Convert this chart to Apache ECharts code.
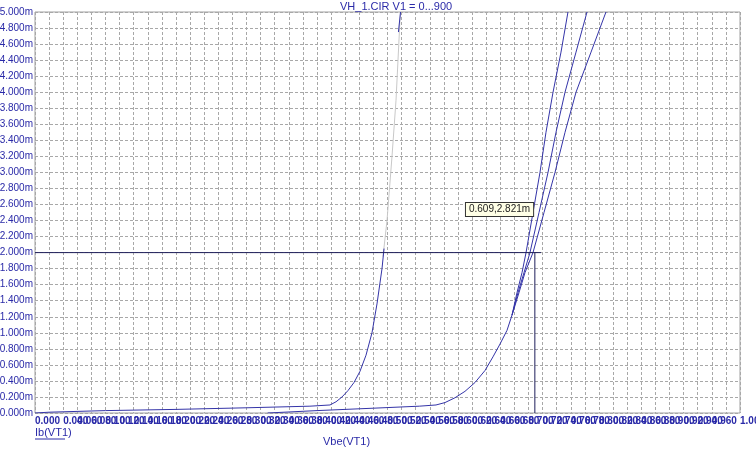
<!DOCTYPE html>
<html>
<head>
<meta charset="utf-8">
<script src="https://cdn.jsdelivr.net/npm/echarts@6/dist/echarts.min.js"></script>
<style>
  html, body { margin: 0; padding: 0; background: #fff; }
  #chart { width: 756px; height: 449px; }
</style>
</head>
<body>
<div id="chart"></div>
<script>
// Vbe (V) vs Ib (mA)
const curveA = [[0, 0], [0.02, 0.01], [0.1, 0.03], [0.2, 0.045], [0.3, 0.065], [0.39, 0.085], [0.4184, 0.1],
  [0.427, 0.14], [0.4355, 0.2], [0.444, 0.28], [0.4525, 0.38], [0.461, 0.52], [0.4695, 0.72], [0.478, 1.0],
  [0.4851, 1.36], [0.4922, 1.8], [0.4951, 2.05]];
const curveAGray = [[0.4936, 1.95], [0.4993, 2.4], [0.5064, 3.2], [0.5121, 3.9], [0.5177, 4.9], [0.5185, 5.0]];
const curveATop = [[0.5155, 4.75], [0.5185, 5.0]];
const curveLow = [[0.33, 0], [0.4, 0.03], [0.48, 0.06], [0.545, 0.085], [0.5688, 0.1], [0.5816, 0.13],
  [0.5957, 0.19], [0.6099, 0.27], [0.6241, 0.38], [0.6383, 0.53], [0.6496, 0.7], [0.6596, 0.86],
  [0.6695, 1.03], [0.6766, 1.22]];
const curveBTop = [[0.6837, 1.5], [0.6908, 1.75], [0.6965, 2.0], [0.7064, 2.5], [0.7163, 3.0], [0.7248, 3.5], [0.7348, 4.0], [0.7461, 4.5], [0.756, 5.0]];
const curveCTop = [[0.6851, 1.5], [0.6936, 1.75], [0.7021, 2.0], [0.7149, 2.5], [0.7277, 3.0], [0.739, 3.5], [0.7518, 4.0], [0.7674, 4.5], [0.783, 5.0]];
const curveDTop = [[0.6865, 1.5], [0.695, 1.75], [0.7064, 2.0], [0.722, 2.5], [0.7376, 3.0], [0.7518, 3.5], [0.7674, 4.0], [0.7887, 4.5], [0.8099, 5.0]];
const cursorH = [[0, 2.0], [0.7177, 2.0]];
const cursorV = [[0.709, 2.0], [0.709, 0]];
const cursorLabel = '0.609,2.821m';
const cursorLabelAt = [0.6113, 2.537];

const xMin = 0, xMax = 1.0, xStep = 0.02;
const yMin = 0, yMax = 5.0, yStep = 0.2;

const blue = '#3434a8';
const textBlue = '#2a2aa8';

const chart = echarts.init(document.getElementById('chart'));

const lineSeries = (data, color) => ({
  type: 'line',
  data: data,
  showSymbol: false,
  symbol: 'none',
  lineStyle: { color: color, width: 1 },
  silent: true
});

const joinLow = arr => [curveLow[curveLow.length - 1]].concat(arr);

chart.setOption({
  animation: false,
  backgroundColor: '#fff',
  grid: {
    left: 35, right: 16, top: 12, bottom: 36,
    outerBoundsMode: 'none', containLabel: false,
    show: true, borderColor: '#a0a0a0', borderWidth: 1
  },
  xAxis: {
    type: 'value',
    min: xMin, max: xMax, interval: xStep,
    axisLine: { show: false },
    axisTick: { show: false },
    axisLabel: {
      color: textBlue, fontSize: 10, fontWeight: 'bold', fontFamily: 'Liberation Sans', margin: 3,
      align: 'left', hideOverlap: false, showMinLabel: true, showMaxLabel: true,
      formatter: v => v.toFixed(3)
    },
    splitLine: { show: true, lineStyle: { color: '#a8a8a8', type: [3, 2], width: 1 } }
  },
  yAxis: {
    type: 'value',
    min: yMin, max: yMax, interval: yStep,
    axisLine: { show: false },
    axisTick: { show: false },
    axisLabel: {
      color: textBlue, fontSize: 10, fontFamily: 'Liberation Sans', margin: 2,
      formatter: v => v.toFixed(3) + 'm'
    },
    splitLine: { show: true, lineStyle: { color: '#a8a8a8', type: [3, 2], width: 1 } }
  },
  series: [
    lineSeries(curveAGray, '#c8c8c8'),
    lineSeries(curveATop, blue),
    lineSeries(curveA, blue),
    lineSeries(curveLow, blue),
    lineSeries(joinLow(curveBTop), blue),
    lineSeries(joinLow(curveCTop), blue),
    lineSeries(joinLow(curveDTop), blue),
    lineSeries(cursorH, '#1e1e5a'),
    Object.assign(lineSeries(cursorV, '#1e1e5a'), {
      markPoint: {
        symbol: 'rect', symbolSize: 0,
        data: [{ coord: cursorLabelAt, value: cursorLabel }],
        label: {
          show: true, position: 'right', distance: 0,
          formatter: cursorLabel,
          color: '#222', fontSize: 10, fontFamily: 'Liberation Sans',
          backgroundColor: '#ffffe6', borderColor: '#333', borderWidth: 1,
          padding: [2, 3, 1, 3]
        }
      }
    })
  ],
  graphic: [
    { type: 'text', left: 340, top: 1,
      style: { text: 'VH_1.CIR V1 = 0...900', fill: textBlue, font: '11px "Liberation Sans"' } },
    { type: 'text', left: 35, top: 427,
      style: { text: 'Ib(VT1)', fill: textBlue, font: '11px "Liberation Sans"' } },
    { type: 'line', shape: { x1: 35, y1: 439, x2: 65, y2: 439 }, style: { stroke: textBlue, lineWidth: 1 } },
    { type: 'text', left: 323, top: 436,
      style: { text: 'Vbe(VT1)', fill: textBlue, font: '11px "Liberation Sans"' } }
  ]
});
</script>
</body>
</html>
